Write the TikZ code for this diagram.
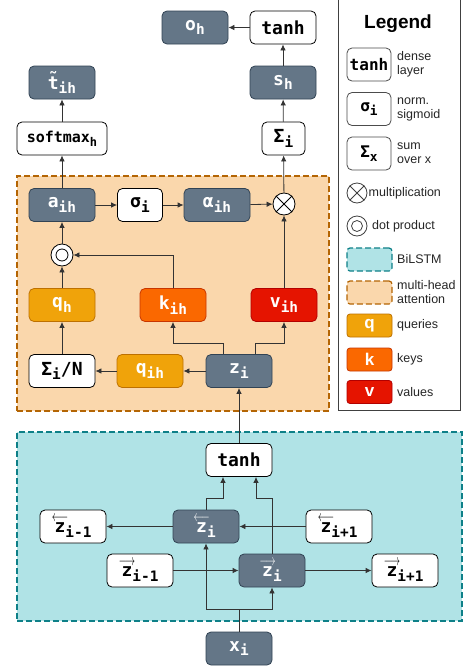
\documentclass[tikz,border=0pt]{standalone}
\usepackage{fontspec}
\usepackage{graphicx}
\setmainfont{Liberation Sans}
\setmonofont{DejaVu Sans Mono}
\usetikzlibrary{arrows.meta, positioning, calc}

\definecolor{slatefill}{HTML}{647687}
\definecolor{slateline}{HTML}{314354}
\definecolor{qfill}{HTML}{F0A30A}
\definecolor{qline}{HTML}{BD7000}
\definecolor{kfill}{HTML}{FA6800}
\definecolor{kline}{HTML}{C73500}
\definecolor{vfill}{HTML}{E51400}
\definecolor{vline}{HTML}{B20000}
\definecolor{attnfill}{HTML}{FAD7AC}
\definecolor{attnline}{HTML}{B46504}
\definecolor{lstmfill}{HTML}{B0E3E6}
\definecolor{lstmline}{HTML}{0E8088}

\newcommand{\monofont}{\ttfamily\bfseries\fontsize{18}{20}\selectfont}
\newcommand{\lo}[1]{\raisebox{-0.45ex}{\scalebox{0.8}{#1}}}
\newcommand{\zfw}{\makebox[0pt][l]{\raisebox{0.62em}{\makebox[0.6em]{\resizebox{0.9em}{0.32em}{$\longrightarrow$}}}}z}
\newcommand{\zbw}{\makebox[0pt][l]{\raisebox{0.62em}{\makebox[0.6em]{\resizebox{0.9em}{0.32em}{$\longleftarrow$}}}}z}

\begin{document}
\begin{tikzpicture}[
        x=1pt, y=-1pt,
        block/.style={rounded corners=5pt, line width=0.8pt, minimum width=66pt, minimum height=33pt, inner sep=1pt, align=center, font=\monofont},
        hidden/.style={block, draw=slateline, fill=slatefill, text=white},
        dense/.style={block, draw=black, fill=white},
        query/.style={block, draw=qline, fill=qfill, text=white},
        keyb/.style={block, draw=kline, fill=kfill, text=white},
        valb/.style={block, draw=vline, fill=vfill, text=white},
        opcircle/.style={circle, draw=black, fill=white, line width=0.8pt, minimum size=22pt, inner sep=0pt},
        region/.style={line width=1.4pt, dash pattern=on 6pt off 3pt},
        legbox/.style={rounded corners=5pt, draw=black!70, fill=white, line width=0.8pt, minimum width=44pt, minimum height=33pt, inner sep=0pt, font=\ttfamily\bfseries\fontsize{16}{18}\selectfont},
        legswatch/.style={rounded corners=3pt, line width=0.8pt, minimum width=45pt, minimum height=23pt, inner sep=0pt, text=white, font=\bfseries\fontsize{17}{18}\selectfont},
        legtext/.style={anchor=west, align=left, inner sep=0pt, text=black!85, font=\fontsize{12.5}{14}\selectfont},
        arrow/.style={-{Latex[length=6pt, width=5.5pt]}, line width=0.8pt, draw=black!80}
    ]
        \useasboundingbox (0,0) rectangle (467,670);
        \fill[white] (0,0) rectangle (467,670);

        % Regions
        \node[region, draw=attnline, fill=attnfill, minimum width=312pt, minimum height=235pt] (attn) at (173,293.5) {};
        \node[region, draw=lstmline, fill=lstmfill, minimum width=445pt, minimum height=189pt] (lstm) at (239.5,526.5) {};

        % Output
        \node[hidden] (oh) at (195,27.5) {o\lo{h}};
        \node[dense] (tanhout) at (283,27.5) {tanh};
        \node[hidden] (ttil) at (62,82.5) {\~t\lo{ih}};
        \node[hidden] (sh) at (283,82.5) {s\lo{h}};
        \node[dense, minimum width=90pt, font=\ttfamily\bfseries\fontsize{15}{17}\selectfont] (softmax) at (62,138.5) {softmax\lo{h}};
        \node[dense, minimum width=43pt] (sumi) at (283.5,138.5) {Σ\lo{i}};

        % Multi-head attention
        \node[hidden] (aih) at (62,205) {a\lo{ih}};
        \node[dense, minimum width=45pt] (sigma) at (140,205) {σ\lo{i}};
        \node[hidden] (alpha) at (217,205) {α\lo{ih}};
        \node[opcircle] (mul) at (284,204) {};
        \node[opcircle] (dot) at (62,255) {};
        \node[query] (qh) at (62,305) {q\lo{h}};
        \node[keyb] (kih) at (173,305) {k\lo{ih}};
        \node[valb] (vih) at (284,305) {v\lo{ih}};
        \node[dense] (sumn) at (62,371) {Σ\lo{i}/N};
        \node[query] (qih) at (150,371) {q\lo{ih}};
        \node[hidden] (zi) at (239,371) {z\lo{i}};
        \draw[line width=0.8pt] (mul.north west) -- (mul.south east) (mul.north east) -- (mul.south west);
        \draw[line width=0.8pt] (dot.center) circle (6pt);

        % BiLSTM
        \node[dense] (tanhlstm) at (239,460) {tanh};
        \node[dense] (zbm) at (73,526.5) {\zbw\lo{i-1}};
        \node[hidden] (zb) at (206,526.5) {\zbw\lo{i}};
        \node[dense] (zbp) at (339,526.5) {\zbw\lo{i+1}};
        \node[dense] (zfm) at (140,570.5) {\zfw\lo{i-1}};
        \node[hidden] (zf) at (272,570.5) {\zfw\lo{i}};
        \node[dense] (zfp) at (405,570.5) {\zfw\lo{i+1}};
        \node[hidden] (xi) at (239,648.5) {x\lo{i}};

        % Arrows
        \draw[arrow] (tanhout) -- (oh);
        \draw[arrow] (sh) -- (tanhout);
        \draw[arrow] (sumi) -- (sh);
        \draw[arrow] (mul) -- (sumi);
        \draw[arrow] (softmax) -- (ttil);
        \draw[arrow] (aih) -- (softmax);
        \draw[arrow] (aih) -- (sigma);
        \draw[arrow] (sigma) -- (alpha);
        \draw[arrow] (alpha) -- (mul);
        \draw[arrow] (vih) -- (mul);
        \draw[arrow] (dot) -- (aih);
        \draw[arrow] (qh) -- (dot);
        \draw[arrow] (kih.north) |- (dot.east);
        \draw[arrow] (sumn) -- (qh);
        \draw[arrow] (qih) -- (sumn);
        \draw[arrow] (zi) -- (qih);
        \draw[arrow] ([xshift=-16pt]zi.north) -- ++(0,-11) -| (kih.south);
        \draw[arrow] ([xshift=16pt]zi.north) -- ++(0,-11) -| (vih.south);
        \draw[arrow] (tanhlstm) -- (zi);

        \draw[arrow] (zb) -- (zbm);
        \draw[arrow] (zbp) -- (zb);
        \draw[arrow] (zfm) -- (zf);
        \draw[arrow] (zf) -- (zfp);
        \draw[arrow] (zb.north) -- ++(0,-11) -| ([xshift=-16pt]tanhlstm.south);
        \draw[arrow] (zf.north) -- ++(0,-55) -| ([xshift=17pt]tanhlstm.south);
        \draw[arrow] (xi.north) -- ++(0,-22) -| (zb.south);
        \draw[arrow] (xi.north) -- ++(0,-22) -| (zf.south);

        % Legend
        \draw[draw=black!75, line width=0.8pt] (338,-2) rectangle (460,410);
        \node[font=\bfseries\fontsize{19}{22}\selectfont] (legtitle) at (398,24) {Legend};
        \node[legbox] (legtanh) at (369,64.5) {tanh};
        \node[legtext] (legtanhtxt) at (397,64.5) {dense\\layer};
        \node[legbox] (legsigma) at (369,109) {σ\lo{i}};
        \node[legtext] (legsigmatxt) at (397,109) {norm.\\sigmoid};
        \node[legbox] (legsum) at (369,153.5) {Σ\lo{x}};
        \node[legtext] (legsumtxt) at (397,153.5) {sum\\over x};
        \node[opcircle, draw=black!75, minimum size=20pt] (legmul) at (357,193) {};
        \draw[line width=0.8pt, black!75] (legmul.north west) -- (legmul.south east) (legmul.north east) -- (legmul.south west);
        \node[legtext] (legmultxt) at (368.5,193) {multiplication};
        \node[opcircle, draw=black!75, minimum size=20pt] (legdot) at (357,226) {};
        \draw[line width=0.8pt, black!75] (legdot.center) circle (5.5pt);
        \node[legtext] (legdottxt) at (372,226) {dot product};
        \node[legswatch, region, line width=1.2pt, draw=lstmline, fill=lstmfill] (leglstm) at (369.5,259.5) {};
        \node[legtext] (leglstmtxt) at (397,259.5) {BiLSTM};
        \node[legswatch, region, line width=1.2pt, draw=attnline, fill=attnfill] (legattn) at (369.5,292.5) {};
        \node[legtext] (legattntxt) at (397,292.5) {multi-head\\attention};
        \node[legswatch, draw=qline, fill=qfill] (legq) at (369.5,325.5) {q};
        \node[legtext] (legqtxt) at (397,325.5) {queries};
        \node[legswatch, draw=kline, fill=kfill] (legk) at (369.5,359.5) {k};
        \node[legtext] (legktxt) at (397,359.5) {keys};
        \node[legswatch, draw=vline, fill=vfill] (legv) at (369.5,392) {v};
        \node[legtext] (legvtxt) at (397,392) {values};
    \end{tikzpicture}
\end{document}
